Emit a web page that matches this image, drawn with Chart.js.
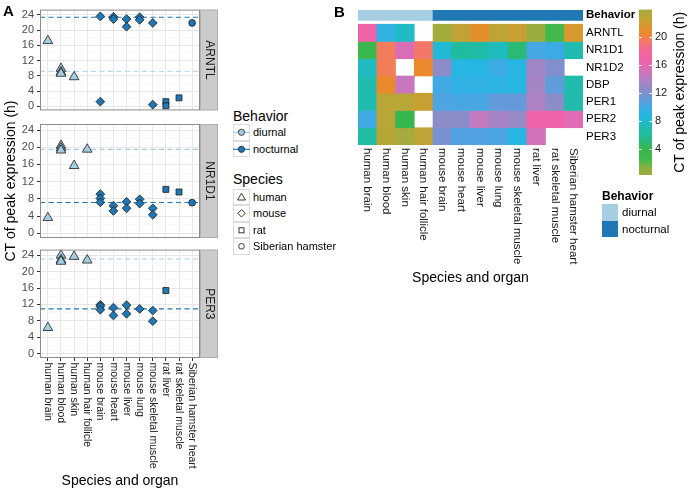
<!DOCTYPE html>
<html>
<head>
<meta charset="utf-8">
<script src="https://cdn.jsdelivr.net/npm/chart.js@4.4.1/dist/chart.umd.min.js"></script>
<style>
  body { margin: 0; background: #fff; font-family: "Liberation Sans", Arial, sans-serif; }
  #page { position: relative; width: 689px; height: 492px; overflow: hidden; }
  canvas { position: absolute; }
  .lbl { position: absolute; white-space: nowrap; line-height: 16px; color: #000; }
  .key { position: absolute; box-sizing: border-box; }
</style>
</head>
<body>
<div id="page">
  <canvas id="facet0" width="220" height="120" style="left:0;top:0"></canvas>
  <canvas id="facet1" width="220" height="360" style="left:0;top:0"></canvas>
  <canvas id="facet2" width="220" height="252" style="left:0;top:240px"></canvas>
  <canvas id="heat" width="310" height="300" style="left:330px;top:0"></canvas>
  <canvas id="cbar" width="59" height="260" style="left:630px;top:0"></canvas>
  <div id="legends"></div>
</div>
<script>
// ---- data ----
const tissues = ['human brain', 'human blood', 'human skin', 'human hair follicle',
  'mouse brain', 'mouse heart', 'mouse liver', 'mouse lung', 'mouse skeletal muscle',
  'rat liver', 'rat skeletal muscle', 'Siberian hamster heart'];
const tissueSpecies = ['human', 'human', 'human', 'human', 'mouse', 'mouse', 'mouse', 'mouse', 'mouse',
  'rat', 'rat', 'Siberian hamster'];
const speciesNames = ['human', 'mouse', 'rat', 'Siberian hamster'];
const behaviorNames = ['diurnal', 'nocturnal'];
const yTicks = [0, 4, 8, 12, 16, 20, 24];
const cbarTicks = [4, 8, 12, 16, 20];

// panel A: CT of peak expression per tissue (one list per tissue)
const facetGenes = ['ARNTL', 'NR1D1', 'PER3'];
const arntlCT = [[17.2], [9.9, 9.0, 8.6], [7.7], [], [23.6, 1.2], [23.5, 22.9], [22.9, 20.9],
  [23.4, 22.7], [21.9, 0.4], [1.2, 0.1], [2.2], [21.9]];
const nr1d1CT = [[3.6], [20.4, 19.8, 19.3], [15.7], [19.5], [9.1, 8.1, 7.2], [6.4, 5.2], [7.3, 5.8],
  [7.9, 6.9], [5.8, 4.3], [10.2], [9.6], [7.1]];
const per3CT = [[6.3], [24.0, 22.9, 22.5], [23.7], [22.8], [11.9, 11.5, 10.7], [11.2, 9.3], [11.8, 9.7],
  [10.9], [10.5, 7.9], [15.4], [], []];
// dashed lines: mean per behaviour [diurnal, nocturnal]
const arntlMean = [9.2, 23.4];
const nr1d1Mean = [19.5, 7.15];
const per3Mean = [23.1, 10.9];

// panel B: heatmap
const heatGenes = ['ARNTL', 'NR1D1', 'NR1D2', 'DBP', 'PER1', 'PER2', 'PER3'];
const heatARNTL = [17.2, 9.3, 7.7, null, 0.25, 22.6, 21.0, 22.8, 22.4, 0.5, 2.4, 21.8];
const heatNR1D1 = [3.6, 19.7, 15.5, 19.4, 8.2, 6.2, 6.6, 7.5, 5.0, 10.2, 9.8, 7.0];
const heatNR1D2 = [7.6, 19.8, null, 20.6, 12.6, 8.8, 8.8, 9.8, 8.8, 13.3, 12.2, null];
const heatDBP = [7.0, 20.6, 14.8, null, 10.0, 9.3, 9.3, 9.1, 8.8, 13.5, 11.0, 6.8];
const heatPER1 = [7.0, 23.0, 23.0, 22.4, 10.5, 10.3, 10.3, 11.2, 11.2, 13.8, 12.6, 6.8];
const heatPER2 = [10.0, 23.0, 3.8, null, 12.6, 12.6, 14.6, 13.5, 13.0, 17.0, 17.0, 15.8];
const heatPER3 = [6.3, 23.2, 24.0, 22.8, 11.8, 10.6, 10.6, 10.4, 8.8, 15.2, null, null];

// ---- styles ----
const FAMILY = '"Liberation Sans", Arial, sans-serif';
Chart.defaults.font.family = FAMILY;
Chart.defaults.color = '#333';
const behaviorColors = ['#a6cee3', '#1f78b4'];
const speciesShapes = ['triangle', 'rectRot', 'rect', 'circle'];
const speciesRadius = [5.6, 4.4, 4.2, 3.4];
const ctStops = [0, 1.3, 2.4, 4, 5.8, 7.2, 8.6, 10.2, 11.6, 12.6, 14.6, 16, 17.2, 18.6, 19.6, 20.6, 22, 23, 24];
const ctColors = ['#a7aa3c', '#86b241', '#45b84b', '#36b64e', '#22bc96', '#20bcb4', '#21b8e0', '#45a7e4',
  '#7094d6', '#8c8cc8', '#c47abf', '#e468b2', '#f062a6', '#f26c88', '#f47b62', '#ea8a2c', '#d29c30',
  '#b8a636', '#a7aa3c'];

function hex(h) { return [1, 3, 5].map(i => parseInt(h.slice(i, i + 2), 16)); }
function mix(a, b, t) {
  const pa = hex(a), pb = hex(b);
  return 'rgb(' + pa.map((c, i) => Math.round(c + (pb[i] - c) * t)).join(',') + ')';
}
function ctColor(v) {
  for (let i = 1; i < ctStops.length; i++) {
    if (v <= ctStops[i]) {
      return mix(ctColors[i - 1], ctColors[i], (v - ctStops[i - 1]) / (ctStops[i] - ctStops[i - 1]));
    }
  }
  return ctColors[ctColors.length - 1];
}
function behaviorOf(species) { return species === 'human' ? 0 : 1; }

// rotated category labels (read top to bottom, like ggplot angle = -90)
function drawDownLabels(ctx, scale, y0, size) {
  ctx.save();
  ctx.fillStyle = '#1a1a1a';
  ctx.font = size + 'px ' + FAMILY;
  ctx.textAlign = 'left';
  ctx.textBaseline = 'middle';
  tissues.forEach((t, i) => {
    ctx.save();
    ctx.translate(scale.getPixelForValue(i), y0);
    ctx.rotate(Math.PI / 2);
    ctx.fillText(t, 0, 0);
    ctx.restore();
  });
  ctx.restore();
}

// ---- panel A ----
const facetDecor = {
  id: 'facetDecor',
  afterDraw(chart, args, opts) {
    const { ctx, chartArea: a } = chart;
    ctx.save();
    ctx.strokeStyle = '#8c8c8c';
    ctx.lineWidth = 1;
    ctx.strokeRect(a.left + 0.5, a.top + 0.5, a.right - a.left - 1, a.bottom - a.top - 1);
    ctx.fillStyle = '#cbcbcb';
    ctx.fillRect(a.right, a.top, 18, a.bottom - a.top);
    ctx.strokeStyle = '#b0b0b0';
    ctx.strokeRect(a.right + 0.5, a.top + 0.5, 17, a.bottom - a.top - 1);
    ctx.translate(a.right + 9, (a.top + a.bottom) / 2);
    ctx.rotate(Math.PI / 2);
    ctx.fillStyle = '#1a1a1a';
    ctx.font = '12px ' + FAMILY;
    ctx.textAlign = 'center';
    ctx.textBaseline = 'middle';
    ctx.fillText(opts.gene, 0, 0);
    ctx.restore();
    if (opts.labels) drawDownLabels(ctx, chart.scales.x, a.bottom + 4.5, 10.5);
  }
};

function facetChart(id, gene, ctList, means, isBottom, showTitle, padTop, padBottom) {
  const pointSets = speciesNames.map((sp, s) => {
    const pts = [];
    ctList.forEach((vals, i) => {
      if (tissueSpecies[i] === sp) vals.forEach(v => pts.push({ x: i, y: v }));
    });
    return {
      label: sp,
      data: pts,
      pointStyle: speciesShapes[s],
      pointRadius: speciesRadius[s],
      backgroundColor: behaviorColors[behaviorOf(sp)],
      borderColor: '#1a1a1a',
      borderWidth: 0.8
    };
  });
  const lineSets = means.map((m, b) => ({
    type: 'line',
    label: behaviorNames[b],
    data: [{ x: -0.6, y: m }, { x: 11.6, y: m }],
    borderColor: behaviorColors[b],
    borderWidth: 1.1,
    borderDash: [5, 3.5],
    pointRadius: 0,
    fill: false
  }));
  const grid = [];
  yTicks.forEach((v, i) => { grid.push(v); if (i < yTicks.length - 1) grid.push(v + 2); });

  return new Chart(document.getElementById(id), {
    type: 'scatter',
    data: { datasets: pointSets.concat(lineSets) },
    plugins: [facetDecor],
    options: {
      responsive: false,
      animation: false,
      events: [],
      layout: { padding: { left: 0, top: padTop, right: 20, bottom: padBottom } },
      plugins: {
        legend: { display: false },
        tooltip: { enabled: false },
        facetDecor: { gene: gene, labels: isBottom }
      },
      scales: {
        x: {
          type: 'linear', min: -0.6, max: 11.6,
          afterBuildTicks: s => { s.ticks = tissues.map((t, i) => ({ value: i })); },
          afterFit: s => { s.height = isBottom ? 134 : 2; },
          grid: { color: '#e8e8e8', lineWidth: 1, drawTicks: isBottom, tickLength: 3, tickColor: '#333' },
          border: { display: false },
          ticks: { display: false, autoSkip: false },
          title: {
            display: isBottom, text: 'Species and organ', color: '#000',
            font: { size: 14 }, padding: { top: 0, bottom: 2.6 }
          }
        },
        y: {
          type: 'linear', min: -1.1, max: 25.4,
          afterBuildTicks: s => { s.ticks = grid.map(v => ({ value: v })); },
          afterFit: s => { s.width = 40; },
          grid: {
            color: c => yTicks.includes(c.tick.value) ? '#e6e6e6' : '#f3f3f3',
            lineWidth: c => yTicks.includes(c.tick.value) ? 1 : 0.6,
            tickColor: c => yTicks.includes(c.tick.value) ? '#333' : 'rgba(0,0,0,0)',
            tickLength: 3
          },
          border: { display: false },
          ticks: {
            autoSkip: false, padding: 3, color: '#4d4d4d', font: { size: 11 },
            callback: v => yTicks.includes(v) ? String(v) : ''
          },
          title: {
            display: showTitle, text: 'CT of peak expression (h)', color: '#000',
            font: { size: 14 }, padding: { top: 2.5, bottom: 0 }
          }
        }
      }
    }
  });
}

facetChart('facet0', facetGenes[0], arntlCT, arntlMean, false, false, 4, 0);
facetChart('facet1', facetGenes[1], nr1d1CT, nr1d1Mean, false, true, 124, 120);
facetChart('facet2', facetGenes[2], per3CT, per3Mean, true, false, 4, 0);

// ---- panel B: heatmap ----
const heatRows = [heatARNTL, heatNR1D1, heatNR1D2, heatDBP, heatPER1, heatPER2, heatPER3];
const behaviorRow = -1.03;
const behaviorSpan = [-1.33, -0.72];

const heatLabels = {
  id: 'heatLabels',
  afterDraw(chart) {
    drawDownLabels(chart.ctx, chart.scales.x, chart.chartArea.bottom + 3, 11.5);
  }
};

const heatSets = heatRows.map((row, r) => {
  const cols = row.map(v => v == null ? 'rgba(0,0,0,0)' : ctColor(v));
  return {
    label: heatGenes[r],
    data: row.map(v => v == null ? null : [r - 0.5, r + 0.5]),
    backgroundColor: cols,
    borderWidth: 0,
    grouped: false,
    barPercentage: 1,
    categoryPercentage: 1
  };
});
heatSets.push({
  label: 'Behavior',
  data: tissues.map(() => behaviorSpan),
  backgroundColor: tissueSpecies.map(sp => behaviorColors[behaviorOf(sp)]),
  borderWidth: 0,
  grouped: false,
  barPercentage: 1,
  categoryPercentage: 1
});

new Chart(document.getElementById('heat'), {
  type: 'bar',
  data: { labels: tissues, datasets: heatSets },
  plugins: [heatLabels],
  options: {
    responsive: false,
    animation: false,
    events: [],
    layout: { padding: { left: 28, top: 4, right: 0, bottom: 0 } },
    plugins: { legend: { display: false }, tooltip: { enabled: false } },
    scales: {
      x: {
        type: 'category', offset: true,
        grid: { display: false, drawTicks: false },
        border: { display: false },
        ticks: { display: false },
        afterFit: s => { s.height = 155; },
        title: {
          display: true, text: 'Species and organ', color: '#000',
          font: { size: 14 }, padding: { top: 0, bottom: 13.6 }
        }
      },
      y: {
        type: 'linear', reverse: true, min: -1.33, max: 6.5, position: 'right',
        afterBuildTicks: s => { s.ticks = [behaviorRow].concat(heatGenes.map((g, i) => i)).map(v => ({ value: v })); },
        afterFit: s => { s.width = 57; },
        grid: { display: false, drawTicks: false },
        border: { display: false },
        ticks: {
          autoSkip: false, padding: 3, color: '#000',
          font: c => ({ size: 11.5, weight: c.tick && c.tick.value === behaviorRow ? 'bold' : 'normal' }),
          callback: v => v === behaviorRow ? 'Behavior' : heatGenes[v]
        }
      }
    }
  }
});

// ---- colour bar ----
const allHeat = heatRows.flat().filter(v => v != null);
const cbMin = Math.min(...allHeat);
const cbMax = Math.max(...allHeat);

const cbarDraw = {
  id: 'cbarDraw',
  afterDraw(chart) {
    const { ctx, chartArea: a } = chart;
    const y = chart.scales.y;
    const y0 = y.getPixelForValue(cbMin), y1 = y.getPixelForValue(cbMax);
    const g = ctx.createLinearGradient(0, y0, 0, y1);
    g.addColorStop(0, ctColor(cbMin));
    ctStops.forEach(s => { if (s > cbMin && s < cbMax) g.addColorStop((s - cbMin) / (cbMax - cbMin), ctColor(s)); });
    g.addColorStop(1, ctColor(cbMax));
    ctx.save();
    ctx.fillStyle = g;
    ctx.fillRect(a.left, y1, a.right - a.left, y0 - y1);
    ctx.strokeStyle = '#fff';
    ctx.lineWidth = 1;
    cbarTicks.forEach(v => {
      const p = Math.round(y.getPixelForValue(v)) + 0.5;
      ctx.beginPath();
      ctx.moveTo(a.left, p); ctx.lineTo(a.left + 2.6, p);
      ctx.moveTo(a.right - 2.6, p); ctx.lineTo(a.right, p);
      ctx.stroke();
    });
    ctx.translate(50, (y0 + y1) / 2);
    ctx.rotate(-Math.PI / 2);
    ctx.fillStyle = '#000';
    ctx.font = '14px ' + FAMILY;
    ctx.textAlign = 'center';
    ctx.textBaseline = 'middle';
    ctx.fillText('CT of peak expression (h)', 0, 0);
    ctx.restore();
  }
};

new Chart(document.getElementById('cbar'), {
  type: 'bar',
  data: { labels: [''], datasets: [] },
  plugins: [cbarDraw],
  options: {
    responsive: false,
    animation: false,
    events: [],
    layout: { padding: { left: 9, top: 3, right: 0, bottom: 85 } },
    plugins: { legend: { display: false }, tooltip: { enabled: false } },
    scales: {
      x: { display: false },
      y: {
        type: 'linear', min: cbMin, max: cbMax, position: 'right',
        afterBuildTicks: s => { s.ticks = cbarTicks.map(v => ({ value: v })); },
        afterFit: s => { s.width = 37; },
        grid: { display: false, drawTicks: false },
        border: { display: false },
        ticks: { autoSkip: false, padding: 3, color: '#1a1a1a', font: { size: 11 } }
      }
    }
  }
});

// ---- legends and panel letters ----
const host = document.getElementById('legends');
function addText(txt, left, cy, size, weight) {
  const d = document.createElement('div');
  d.className = 'lbl';
  d.textContent = txt;
  d.style.left = left + 'px';
  d.style.top = (cy - 8) + 'px';
  d.style.fontSize = size + 'px';
  d.style.fontWeight = weight || 'normal';
  host.appendChild(d);
}
function addKey(left, top, w, h, inner, css) {
  const d = document.createElement('div');
  d.className = 'key';
  d.style.cssText += `left:${left}px;top:${top}px;width:${w}px;height:${h}px;${css || ''}`;
  d.innerHTML = inner || '';
  host.appendChild(d);
}
const keySvg = body => `<svg width="17" height="16.5" viewBox="0 0 17 16.5" style="position:absolute;left:-1px;top:-1px">${body}</svg>`;
const shapeSvg = {
  triangle: '<polygon points="8.5,4.2 12.4,11 4.6,11" fill="none" stroke="#222" stroke-width="0.9"/>',
  rectRot: '<polygon points="8.5,4.6 12.2,8.3 8.5,12 4.8,8.3" fill="none" stroke="#222" stroke-width="0.9"/>',
  rect: '<rect x="6" y="5.8" width="5" height="5" fill="none" stroke="#222" stroke-width="0.9"/>',
  circle: '<circle cx="8.5" cy="8.3" r="2.8" fill="none" stroke="#222" stroke-width="0.9"/>'
};

addText('A', 3, 11, 15, 'bold');
addText('B', 334, 12, 15, 'bold');

addText('Behavior', 233, 116, 14);
behaviorNames.forEach((b, i) => {
  const top = 124 + i * 16.5;
  addKey(233, top, 17, 16.5, keySvg(
    `<line x1="0" y1="8.3" x2="17" y2="8.3" stroke="${behaviorColors[i]}" stroke-width="1.2"/>` +
    `<circle cx="8.5" cy="8.3" r="3.1" fill="${behaviorColors[i]}" stroke="#222" stroke-width="0.8"/>`),
    'border:1px solid #dcdcdc;background:#fff');
  addText(b, 253, top + 8.3, 11);
});
addText('Species', 233, 179, 14);
speciesNames.forEach((sp, i) => {
  const top = 188.5 + i * 16.5;
  addKey(233, top, 17, 16.5, keySvg(shapeSvg[speciesShapes[i]]), 'border:1px solid #dcdcdc;background:#fff');
  addText(sp, 253, top + 8.3, 11);
});

addText('Behavior', 602, 196, 12, 'bold');
behaviorNames.forEach((b, i) => {
  const top = 204 + i * 16.5;
  addKey(602, top, 16, 16.5, '', `background:${behaviorColors[i]}`);
  addText(b, 622, top + 8.3, 11.5);
});
</script>
</body>
</html>
